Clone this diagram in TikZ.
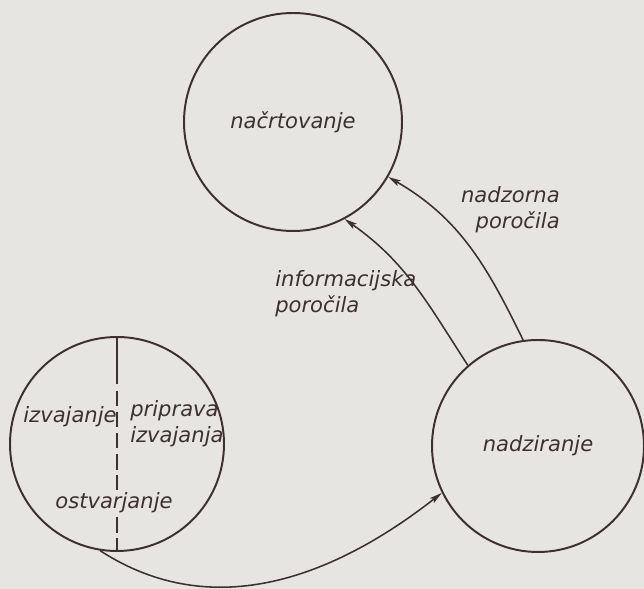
\documentclass[tikz,border=0pt]{standalone}
\usepackage{fontspec}
\setmainfont{DejaVu Sans}
\usepackage{tikz}
\usetikzlibrary{arrows.meta, positioning}
\definecolor{scanpaper}{RGB}{231,229,226}
\definecolor{scanink}{RGB}{60,48,48}

\begin{document}
\begin{tikzpicture}[
  every node/.style = {font=\fontsize{15}{18.5}\selectfont\itshape, text=scanink},
  phase/.style = {
    circle, draw=scanink, line width=1.4pt,
    minimum size=#1, inner sep=0pt, align=center
  },
  phase/.default = 5.4cm,
  lbl/.style = {inner sep=0pt},
  arr/.style = {-{Stealth[length=9pt, width=4.5pt, inset=2pt]}, line width=1.1pt, draw=scanink},
  divider/.style = {line width=1.2pt, draw=scanink,
    dash pattern=on 34pt off 5pt on 11pt off 4pt on 11pt off 4pt on 11pt off 4pt
                 on 11pt off 4pt on 11pt off 4pt on 11pt off 4pt on 11pt off 4pt on 20pt off 0pt}
]

%% ── page ──────────────────────────────────────────────────────────────────
\fill[scanpaper] (0,0) rectangle (16.1,14.725);
\useasboundingbox (0,0) rectangle (16.1,14.725);

%% ── three phases ──────────────────────────────────────────────────────────
\node[phase=5.45cm] (plan) at ( 7.325, 11.675) {načrtovanje};
\node[phase=5.35cm] (ostv) at ( 2.925,  3.625) {};
\node[phase=5.30cm] (nadz) at (13.450,  3.575) {nadziranje};

%% ── inside the left circle ────────────────────────────────────────────────
\draw[divider] (ostv.north) -- (ostv.south);
\node[lbl]                    (izv)  at (1.75, 4.30) {izvajanje};
\node[lbl, anchor=west, align=left] (prip) at (3.25, 4.125) {priprava\\izvajanja};
\node[lbl, fill=scanpaper, inner ysep=2pt] (ostt) at (2.85, 2.15) {ostvarjanje};

%% ── reports back to planning ──────────────────────────────────────────────
\draw[arr] (nadz.98)  to[out=116, in=-30] (plan.-30);
\draw[arr] (nadz.131) to[out=123, in=-35] (plan.-62);
\node[lbl, anchor=east, align=right] (nrep) at (14.0, 9.475) {nadzorna\\poročila};
\node[lbl, anchor=west, align=left]  (irep) at (6.875, 7.375) {informacijska\\poročila};

%% ── realisation to monitoring ─────────────────────────────────────────────
\draw[arr] (ostv.-99) to[out=-33, in=218] (nadz.206);

\end{tikzpicture}
\end{document}
